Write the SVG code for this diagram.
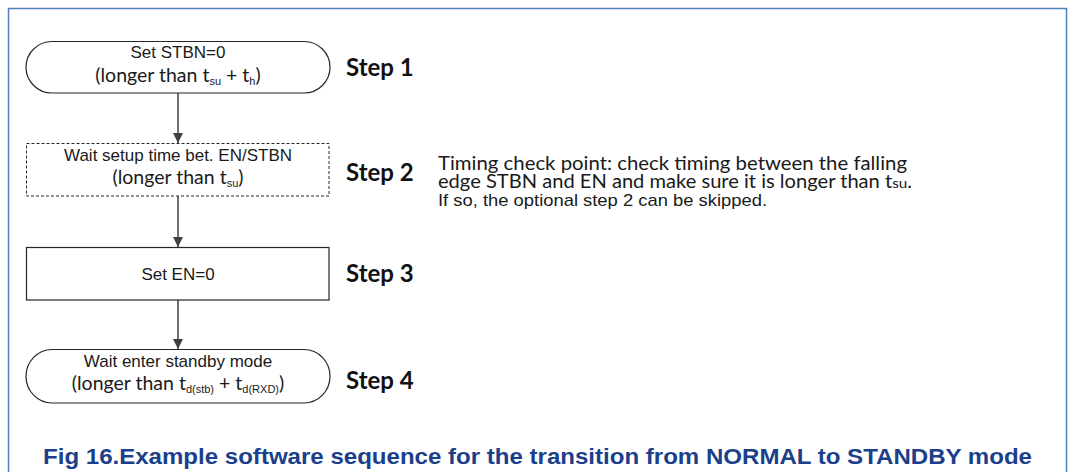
<svg xmlns="http://www.w3.org/2000/svg" width="1073" height="472" viewBox="0 0 1073 472">
  <defs>
    <marker id="arrow" markerWidth="10" markerHeight="10" refX="10" refY="5" orient="auto" markerUnits="userSpaceOnUse">
      <path d="M0,0 L10,5 L0,10 Z" fill="#404040"/>
    </marker>
    <style>
      .frame { fill: none; stroke: #4F81BD; stroke-width: 1.5; }
      .shape { fill: #ffffff; stroke: #262626; stroke-width: 1.2; }
      .dashed { fill: #ffffff; stroke: #262626; stroke-width: 1; stroke-dasharray: 3 2; }
      .edge { fill: none; stroke: #404040; stroke-width: 1.5; marker-end: url(#arrow); }
      .label { font-family: "Liberation Sans", Arial, sans-serif; font-size: 17px; fill: #1a1a1a; text-anchor: middle; }
      .paren { font-family: Lato, "Liberation Sans", sans-serif; font-size: 19.5px; fill: #1a1a1a; text-anchor: middle; }
      .sub { font-family: "Liberation Sans", Arial, sans-serif; font-size: 11px; }
      .step { font-family: Lato, "Liberation Sans", sans-serif; font-weight: bold; font-size: 24px; fill: #111111; }
      .note { font-family: Lato, "Liberation Sans", sans-serif; font-size: 18.5px; fill: #1a1a1a; }
      .note2 { font-family: "Liberation Sans", Arial, sans-serif; font-size: 17px; fill: #1a1a1a; }
      .caption { font-family: "Liberation Sans", Arial, sans-serif; font-weight: bold; font-size: 22px; fill: #1B3F8B; }
    </style>
  </defs>

  <!-- outer figure frame, open past the bottom edge -->
  <rect class="frame" x="8.5" y="8.5" width="1058" height="490"/>

  <!-- connectors -->
  <g id="connectors">
    <line class="edge" x1="178" y1="93" x2="178" y2="143"/>
    <line class="edge" x1="178" y1="196" x2="178" y2="247"/>
    <line class="edge" x1="178" y1="300" x2="178" y2="349"/>
  </g>

  <!-- Step 1: terminal -->
  <g id="step1">
    <rect class="shape" x="26" y="41.5" width="304" height="51.5" rx="26" ry="25.75"/>
    <text class="label" x="178" y="58">Set STBN=0</text>
    <text class="paren" x="178" y="82">(longer than t<tspan class="sub" dy="3">su</tspan><tspan dy="-3"> + t</tspan><tspan class="sub" dy="3">h</tspan><tspan dy="-3">)</tspan></text>
    <text class="step" x="346" y="76">Step 1</text>
  </g>

  <!-- Step 2: optional wait (dashed) -->
  <g id="step2">
    <rect class="dashed" x="26.5" y="143.5" width="302.5" height="52.5"/>
    <text class="label" x="178" y="161">Wait setup time bet. EN/STBN</text>
    <text class="paren" x="178" y="184">(longer than t<tspan class="sub" dy="3">su</tspan><tspan dy="-3">)</tspan></text>
    <text class="step" x="346" y="181">Step 2</text>
  </g>

  <!-- timing note next to step 2 -->
  <g id="note">
    <text class="note" x="438" y="170" textLength="469" lengthAdjust="spacingAndGlyphs">Timing check point: check timing between the falling</text>
    <text class="note" x="438" y="188" textLength="474" lengthAdjust="spacingAndGlyphs">edge STBN and EN and make sure it is longer than t<tspan font-size="14">su</tspan>.</text>
    <text class="note2" x="438" y="206" textLength="329" lengthAdjust="spacingAndGlyphs">If so, the optional step 2 can be skipped.</text>
  </g>

  <!-- Step 3: process -->
  <g id="step3">
    <rect class="shape" x="26.5" y="247.5" width="302.5" height="52.5"/>
    <text class="label" x="178" y="280">Set EN=0</text>
    <text class="step" x="346" y="282">Step 3</text>
  </g>

  <!-- Step 4: terminal -->
  <g id="step4">
    <rect class="shape" x="26" y="349.5" width="304" height="53.5" rx="26" ry="26.75"/>
    <text class="label" x="178" y="367">Wait enter standby mode</text>
    <text class="paren" x="178" y="390">(longer than t<tspan class="sub" dy="3">d(stb)</tspan><tspan dy="-3"> + t</tspan><tspan class="sub" dy="3">d(RXD)</tspan><tspan dy="-3">)</tspan></text>
    <text class="step" x="346" y="389">Step 4</text>
  </g>

  <!-- caption -->
  <text class="caption" x="43" y="464" textLength="989" lengthAdjust="spacingAndGlyphs">Fig 16.Example software sequence for the transition from NORMAL to STANDBY mode</text>
</svg>
